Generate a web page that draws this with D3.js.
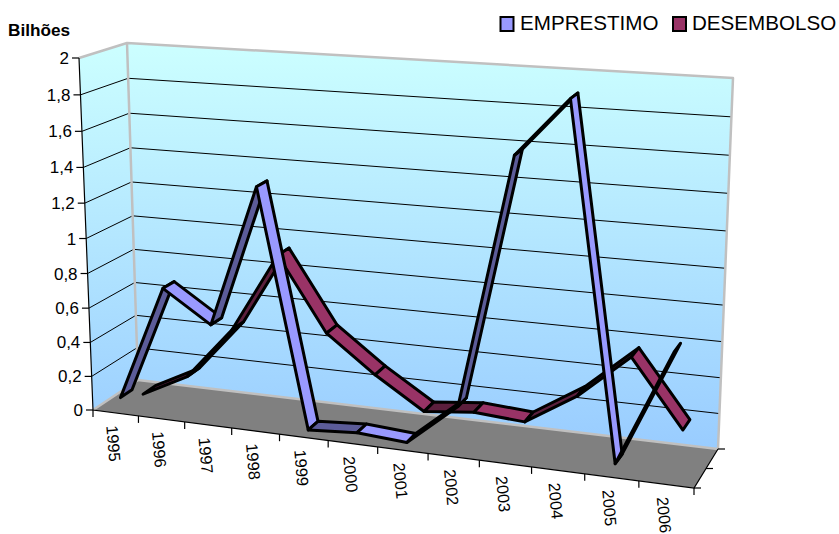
<!DOCTYPE html>
<html><head><meta charset="utf-8">
<script src="https://cdn.jsdelivr.net/npm/d3@7"></script>
<style>html,body{margin:0;padding:0;background:#fff;overflow:hidden}svg{display:block}text{font-family:"Liberation Sans",Arial,sans-serif;fill:#000}</style>
</head><body><svg id="c" width="839" height="534"></svg>
<script>
const categories=["1995","1996","1997","1998","1999","2000","2001","2002","2003","2004","2005","2006"];
const emprestimo=[0.07,0.74,0.56,1.36,0.02,0.04,0.02,0.26,1.64,1.95,0.05,0.69];
const desembolso=[0.0,0.14,0.45,0.91,0.49,0.28,0.1,0.13,0.11,0.29,0.54,0.17];
const yTicks=[0,0.2,0.4,0.6,0.8,1,1.2,1.4,1.6,1.8,2];
const seriesNames=["EMPRESTIMO","DESEMBOLSO"];

const FL0=[93,410],FL1=[79,58],FR0=[694,488],FR1=[710,101];
const BL0=[138,380],BL1=[127,43],BR0=[718,449],BR1=[733,78];
const warp=(t,k)=>k*t/(1+(k-1)*t);
const uScale=d3.scaleLinear().domain([0,categories.length]).range([0,1]);
const vScale=d3.scaleLinear().domain([0,2]).range([0,1]);
const lerp=(a,b,t)=>[a[0]+(b[0]-a[0])*t,a[1]+(b[1]-a[1])*t];
function P(cat,val,w){
  const u=warp(uScale(cat),0.9),v=warp(vScale(val),0.95);
  const f=lerp(lerp(FL0,FR0,u),lerp(FL1,FR1,u),v);
  const b=lerp(lerp(BL0,BR0,u),lerp(BL1,BR1,u),v);
  return lerp(f,b,w);
}
const svg=d3.select("#c");
const poly=d3.line().curve(d3.curveLinearClosed);
const defs=svg.append("defs");
const g=defs.append("linearGradient").attr("id","wall").attr("gradientUnits","userSpaceOnUse").attr("x1",0).attr("x2",0).attr("y1",43).attr("y2",449);
g.append("stop").attr("offset",0).attr("stop-color","#ccffff");
g.append("stop").attr("offset",1).attr("stop-color","#99ccff");

// walls and floor
svg.append("path").attr("d",poly([BL0,BL1,BR1,BR0])).attr("fill","url(#wall)");
svg.append("path").attr("d",poly([FL0,FL1,BL1,BL0])).attr("fill","url(#wall)");
svg.append("path").attr("d",poly([FL0,FR0,BR0,BL0])).attr("fill","#808080");

// grid
const grid=svg.append("g").attr("stroke","#000").attr("stroke-width",1).attr("fill","none");
yTicks.slice(1,-1).forEach(t=>{
  grid.append("path").attr("d",d3.line()([P(0,t,0),P(0,t,1),P(categories.length,t,1)]));
});
// wall edges
const edge=svg.append("g").attr("stroke","#c0c0c0").attr("stroke-width",2.5).attr("fill","none").attr("stroke-linejoin","round");
edge.append("path").attr("d",d3.line()([FL1,BL1,BR1,BR0]));
edge.append("path").attr("d",d3.line()([BL1,BL0,BR0]));
edge.append("path").attr("d",d3.line()([FL0,BL0]));

// axes
const ax=svg.append("g").attr("stroke","#000").attr("stroke-width",1.2).attr("fill","none");
ax.append("path").attr("d",d3.line()([FL1,FL0,FR0,BR0]));
yTicks.forEach(t=>{
  const p=P(0,t,0);
  ax.append("path").attr("d",d3.line()([[p[0]-7,p[1]],p]));
  svg.append("text").attr("x",p[0]-10).attr("y",p[1]+6).attr("text-anchor","end").attr("font-size",17).text(String(t).replace(".",","));
});
d3.range(categories.length+1).forEach(i=>{
  const p=P(i,0,0);
  ax.append("path").attr("d",d3.line()([p,[p[0],p[1]+7]]));
});
[0,0.5,1].forEach(w=>{
  const p=P(categories.length,0,w);
  ax.append("path").attr("d",d3.line()([p,[p[0]+7,p[1]]]));
});
categories.forEach((c,i)=>{
  const p=P(i+0.5,0,0);
  svg.append("text").attr("transform",`translate(${p[0]-9.5},${p[1]+13}) rotate(85)`)
    .attr("font-size",16.3).text(c);
});

// ribbons
function ribbon(vals,w0,w1,light,dark){
  const r=svg.append("g").attr("stroke","#000").attr("stroke-width",3).attr("stroke-linejoin","round");
  d3.pairs(vals.map((v,i)=>[i,v])).forEach(([a,b])=>{
    const ca=a[0]+0.5,cb=b[0]+0.5;
    r.append("path").attr("d",poly([P(ca,a[1],w0),P(cb,b[1],w0),P(cb,b[1],w1),P(ca,a[1],w1)]))
     .attr("fill",b[1]>a[1]?dark:light);
  });
}
ribbon(desembolso,0.62,0.9,"#993366","#5c1f3d");
ribbon(emprestimo,0.12,0.38,"#9999ff","#5c5c99");

// title and legend
svg.append("text").attr("x",8).attr("y",36).attr("font-size",17.2).attr("font-weight","bold").text("Bilhões");
[[500.5,520,"#9999ff"],[673,692,"#993366"]].forEach((l,i)=>{
  svg.append("rect").attr("x",l[0]).attr("y",17).attr("width",13).attr("height",14).attr("fill",l[2]).attr("stroke","#000").attr("stroke-width",2);
  svg.append("text").attr("x",l[1]).attr("y",30).attr("font-size",20.6).text(seriesNames[i]);
});
</script></body></html>
